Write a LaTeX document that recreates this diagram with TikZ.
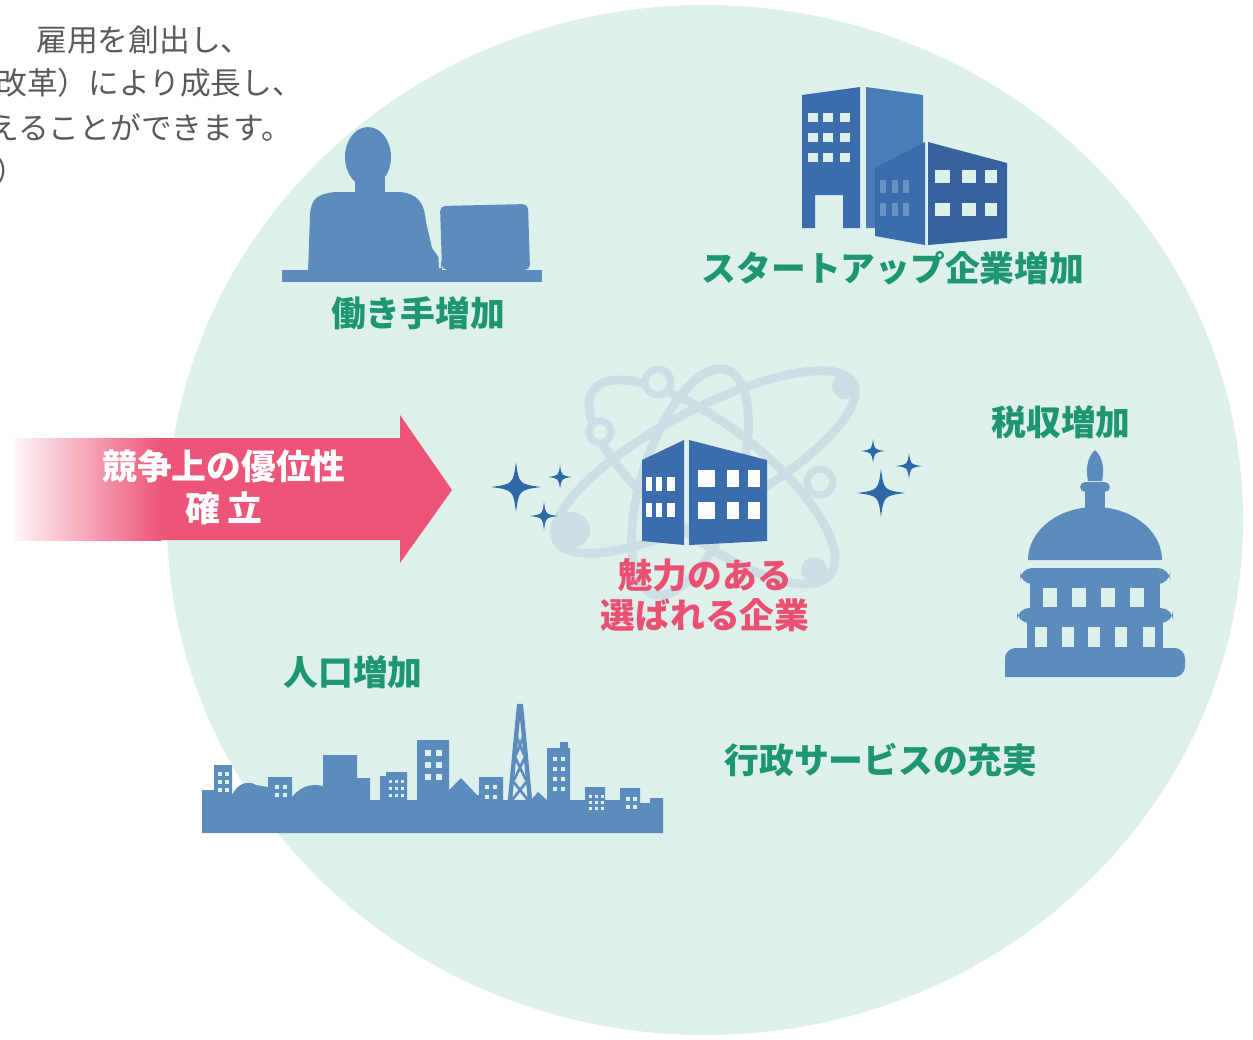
\documentclass[tikz,border=0pt]{standalone}
\usepackage{fontspec}
\setmainfont{Noto Sans CJK JP}
\usetikzlibrary{positioning}

\definecolor{ringbg}{RGB}{222,240,236}
\definecolor{gaingreen}{RGB}{30,150,114}
\definecolor{corepink}{RGB}{233,80,113}
\definecolor{arrowpink}{RGB}{236,85,119}
\definecolor{iconblue}{RGB}{92,140,188}
\definecolor{bldgblue}{RGB}{59,108,172}
\definecolor{bldglight}{RGB}{74,124,182}
\definecolor{starblue}{RGB}{46,104,166}
\definecolor{orbitgray}{RGB}{203,223,228}
\definecolor{notegray}{RGB}{90,90,90}

\tikzset{
  sparkle/.pic={\fill[starblue] (1,0) .. controls (0.12,0.12) .. (0,1) .. controls (-0.12,0.12) .. (-1,0)
    .. controls (-0.12,-0.12) .. (0,-1) .. controls (0.12,-0.12) .. cycle;}
}

\begin{document}
\begin{tikzpicture}[x=0.02cm,y=-0.02cm,
  gain/.style={font=\bfseries\fontsize{19.8}{23}\selectfont,text=gaingreen,inner sep=0pt},
  core/.style={font=\bfseries\fontsize{19.8}{22.7}\selectfont,text=corepink,align=center,inner sep=0pt},
  banner/.style={font=\bfseries\fontsize{19.8}{23.8}\selectfont,text=white,align=center,inner sep=0pt},
  note/.style={font=\fontsize{17.5}{20}\selectfont,text=notegray,anchor=west,inner sep=0pt},
  orbit/.style={draw=orbitgray,line width=5pt},
  win/.style={fill=ringbg}]
\useasboundingbox (0,0) rectangle (1253,1039);

% big circle
\fill[ringbg] (705,520) ellipse [x radius=538, y radius=515];

% text above, cut at the page edge
\node[note] (n1) at (36,40) {雇用を創出し、};
\node[note] (n2) at (-4,83) {改革）により成長し、};
\node[note] (n3) at (-12,127) {えることができます。};
\node[note] (n4) at (-5,171) {）};

% arrow
\fill[arrowpink] (160,438) -- (400,438) -- (400,415) -- (452,490) -- (400,563) -- (400,540) -- (160,540) -- cycle;
\shade[left color=arrowpink!6,right color=arrowpink] (15,438) rectangle (161,540);
\node[banner] (edge) at (224,487) {競争上の優位性\\確 立};

% atom
\draw[orbit,rotate around={28:(705,462)}] (705,462) ellipse [x radius=168, y radius=52];
\draw[orbit,rotate around={-38:(712,482)}] (712,482) ellipse [x radius=150, y radius=55];
\draw[orbit,rotate around={72:(690,482)}] (690,482) ellipse [x radius=118, y radius=48];
\foreach \cx/\cy/\r in {658/382/13, 600/432/11, 820/482/13}
  \draw[fill=ringbg,draw=orbitgray,line width=4pt] (\cx,\cy) circle (\r);
\foreach \cx/\cy/\r in {845/386/13, 572/530/18, 814/570/13}
  \fill[orbitgray] (\cx,\cy) circle (\r);

% centre building
\fill[bldgblue] (642,460) -- (684,440) -- (684,545) -- (642,541) -- cycle;
\fill[bldgblue] (689,440) -- (767,460) -- (767,541) -- (689,545) -- cycle;
\foreach \wx/\ww in {646/6,656/6,667/8}
  \foreach \wy in {477,503}
    \fill[white!90!ringbg] (\wx,\wy) rectangle ++(\ww,14);
\foreach \wx/\ww in {698/17,727/12,748/12}
  \foreach \wy in {470,502}
    \fill[white!90!ringbg] (\wx,\wy) rectangle ++(\ww,17);

% sparkles
\pic[scale=25] at (516,487) {sparkle};
\pic[scale=12] at (560,477) {sparkle};
\pic[scale=14] at (544,516) {sparkle};
\pic[scale=12] at (873,451) {sparkle};
\pic[scale=13] at (909,466) {sparkle};
\pic[scale=24] at (881,493) {sparkle};

\node[core] (brand) at (705,595) {魅力のある\\選ばれる企業};

% worker at a laptop
\fill[iconblue] (368,157) ellipse [x radius=23, y radius=30];
\fill[iconblue] (355,178) rectangle (385,200);
\fill[iconblue] (308,272) -- (310,215) .. controls (311,198) and (318,194) .. (335,192) -- (400,192)
  .. controls (418,194) and (424,202) .. (426,222) -- (432,248) -- (442,262) -- (442,272) -- cycle;
\fill[iconblue,rounded corners=3] (440,206) -- (528,204) -- (530,270) -- (442,270) -- cycle;
\draw[ringbg,line width=1.2pt] (438,208) -- (440,268);
\fill[iconblue] (282,270) rectangle (542,282);
\node[gain] (worker) at (418,313) {働き手増加};

% office buildings
\fill[bldgblue] (802,95) -- (860,87) -- (860,228) -- (843,228) -- (843,195) -- (815,195) -- (815,228) -- (802,228) -- cycle;
\fill[bldglight] (866,87) -- (923,95) -- (923,228) -- (866,228) -- cycle;
\fill[bldgblue] (875,168) -- (925,142) -- (925,245) -- (875,236) -- cycle;
\fill[bldgblue!92!black] (928,142) -- (1007,163) -- (1007,238) -- (928,245) -- cycle;
\foreach \wx in {808,823,840}
  \foreach \wy in {113,133,153}
    \fill[win] (\wx,\wy) rectangle ++(10,9);
\foreach \wx in {880,892,903}
  \foreach \wy in {180,203}
    \fill[bldglight!80!ringbg] (\wx,\wy) rectangle ++(6,13);
\foreach \wx/\ww in {935/15,962/14,985/12}
  \foreach \wy in {170,203}
    \fill[win] (\wx,\wy) rectangle ++(\ww,13);
\node[gain] (startup) at (893,268) {スタートアップ企業増加};

% capitol
\node[gain] (tax) at (1061,422) {税収増加};
\fill[iconblue] (1095,450) .. controls (1104,458) and (1104,472) .. (1102,481) -- (1088,481) .. controls (1086,472) and (1086,458) .. (1095,450);
\fill[iconblue,rounded corners=3] (1080,482) rectangle (1110,492);
\fill[iconblue] (1085,491) rectangle (1105,508);
\fill[iconblue] (1028,560) arc [start angle=180, end angle=360, x radius=67, y radius=53] -- cycle;
\fill[iconblue,rounded corners=7] (1020,568) rectangle (1170,584);
\fill[iconblue] (1030,583) rectangle (1160,609);
\fill[iconblue,rounded corners=7] (1017,608) rectangle (1173,623);
\fill[iconblue] (1027,622) rectangle (1163,649);
\fill[iconblue,rounded corners=6] (1005,677) -- (1005,648) -- (1185,648) -- (1185,677) [sharp corners] -- cycle;
\foreach \wx in {1043,1072,1101,1130}
  \fill[win] (\wx,588) rectangle ++(14,19);
\foreach \wx in {1035,1062,1088,1115,1143}
  \fill[win] (\wx,627) rectangle ++(12,20);

% town skyline
\node[gain] (people) at (353,672) {人口増加};
\fill[iconblue] (202,833) -- (202,790) -- (214,790) -- (214,765) -- (232,765) -- (232,795)
  .. controls (238,783) and (248,780) .. (256,785) -- (268,787)
  -- (268,777) -- (292,777) -- (292,797)
  .. controls (300,787) and (310,783) .. (323,786)
  -- (323,755) -- (357,755) -- (357,778) -- (370,778) -- (370,800) -- (380,800)
  -- (380,776) -- (386,776) -- (386,772) -- (407,772) -- (407,800) -- (417,800)
  -- (417,740) -- (449,740) -- (449,790) -- (461,778) -- (477,795)
  -- (479,795) -- (479,777) -- (503,777) -- (503,800) -- (531,800) -- (538,792) -- (547,800)
  -- (547,748) -- (560,748) -- (560,742) -- (568,742) -- (568,748) -- (570,748) -- (570,800)
  -- (585,800) -- (585,787) -- (605,787) -- (605,800) -- (620,800) -- (620,788) -- (640,788)
  -- (640,803) -- (650,803) -- (650,798) -- (663,798) -- (663,833) -- cycle;
\draw[iconblue,line width=2.5pt] (510,800) -- (519,706) -- (521,706) -- (530,800);
\draw[iconblue,line width=1.5pt] (512,780) -- (528,800) (528,780) -- (512,800)
  (514,755) -- (526,780) (526,755) -- (514,780) (516,735) -- (524,755) (524,735) -- (516,755);
\foreach \wx in {218,225} \foreach \wy in {772,780,788} \fill[win] (\wx,\wy) rectangle ++(4,4);
\foreach \wx in {275,283} \foreach \wy in {785,793} \fill[win] (\wx,\wy) rectangle ++(4,4);
\foreach \wx in {389,395,401} \foreach \wy in {780,787,794} \fill[win] (\wx,\wy) rectangle ++(3,3);
\foreach \wx in {425,436} \foreach \wy in {750,762,774} \fill[win] (\wx,\wy) rectangle ++(6,6);
\foreach \wx in {485,493} \foreach \wy in {785,795} \fill[win] (\wx,\wy) rectangle ++(4,4);
\foreach \wx in {553,561} \foreach \wy in {757,767,777,787} \fill[win] (\wx,\wy) rectangle ++(4,4);
\foreach \wx in {589,595,601} \foreach \wy in {795,801,807} \fill[win] (\wx,\wy) rectangle ++(3,3);
\foreach \wx in {626,633} \foreach \wy in {797,805} \fill[win] (\wx,\wy) rectangle ++(4,4);

\node[gain] (service) at (881,760) {行政サービスの充実};
\end{tikzpicture}
\end{document}
